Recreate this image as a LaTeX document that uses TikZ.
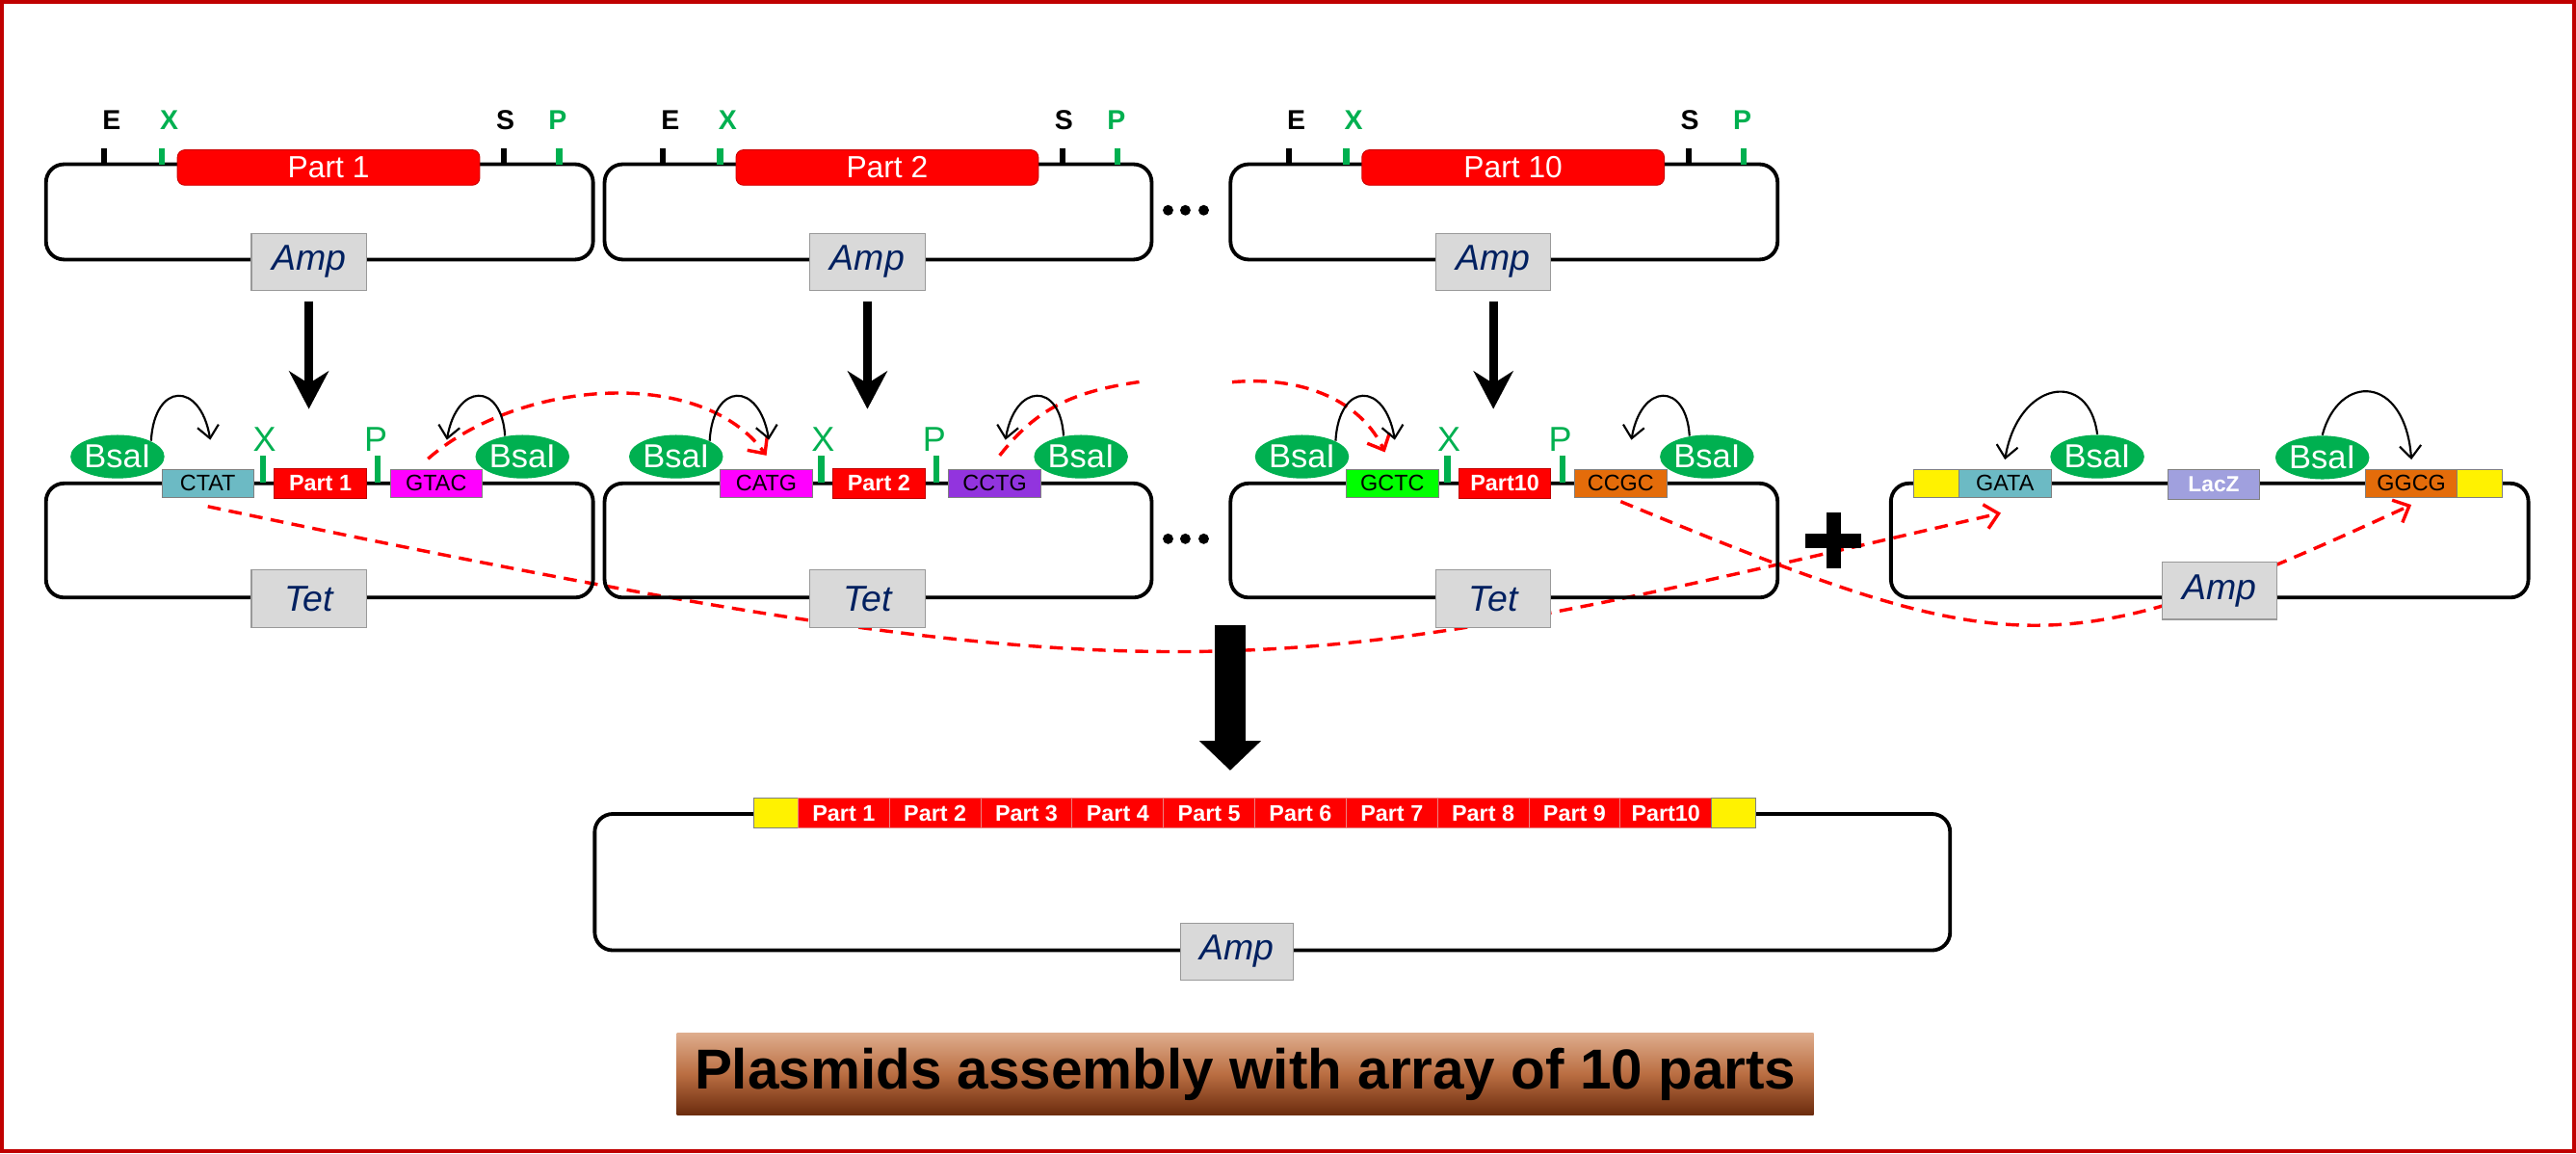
\documentclass[tikz,border=0pt]{standalone}
\usepackage{fontspec}
\setmainfont{Liberation Sans}
\usetikzlibrary{arrows.meta,shapes.geometric,backgrounds}
\definecolor{framered}{RGB}{192,0,0}
\definecolor{partred}{RGB}{255,0,0}
\definecolor{bsagreen}{RGB}{0,176,80}
\definecolor{sitecyan}{RGB}{108,186,196}
\definecolor{sitemagenta}{RGB}{255,0,255}
\definecolor{sitepurple}{RGB}{146,52,222}
\definecolor{sitelime}{RGB}{0,255,0}
\definecolor{siteorange}{RGB}{228,108,10}
\definecolor{laczblue}{RGB}{160,160,222}
\definecolor{markergray}{RGB}{217,217,217}
\definecolor{markernavy}{RGB}{0,32,96}
\definecolor{titletop}{RGB}{222,172,140}
\definecolor{titlemid}{RGB}{186,110,66}
\definecolor{titlebot}{RGB}{108,44,14}
\newcommand{\sizept}[1]{\fontsize{#1pt}{#1pt}\selectfont}

\begin{document}
\begin{tikzpicture}[
		x=0.2mm, y=0.2mm,
		plasmid/.style={
			draw,
			line width=0.45mm,
			rounded corners=2.2mm,
			inner sep=0pt,
			minimum width=66.6mm
		},
		donorpart/.style={
			draw=red!80!black,
			line width=0.3pt,
			rounded corners=0.9mm,
			fill=partred,
			text=white,
			inner sep=0pt,
			minimum width=36.8mm,
			minimum height=4.3mm,
			font=\sizept{10.6}
		},
		partbox/.style={
			draw=red!75!black,
			line width=0.3pt,
			fill=partred,
			text=white,
			inner sep=0pt,
			minimum width=11.2mm,
			minimum height=3.6mm,
			font=\bfseries\sizept{7.8}
		},
		slotbox/.style={
			partbox,
			draw={rgb,255:red,235;green,130;blue,130},
			minimum width=11.12mm
		},
		sitebox/.style={
			draw=gray,
			line width=0.3pt,
			inner sep=0pt,
			minimum width=11.2mm,
			minimum height=3.5mm,
			font=\sizept{7.8}
		},
		padbox/.style={
			sitebox,
			fill=yellow,
			minimum width=5.5mm
		},
		marker/.style={
			draw=gray!80,
			line width=0.4pt,
			fill=markergray,
			text=markernavy,
			inner sep=0pt,
			minimum width=14mm,
			minimum height=7mm,
			font=\itshape\sizept{12.5}
		},
		enzyme/.style={
			ellipse,
			fill=bsagreen,
			text=white,
			inner sep=0pt,
			minimum width=11mm,
			minimum height=5.3mm,
			font=\sizept{11.5}
		},
		blacktick/.style={line width=0.7mm},
		greentick/.style={line width=0.75mm, draw=bsagreen},
		sitelabel/.style={anchor=base, font=\bfseries\sizept{9.5}},
		cutlabel/.style={anchor=base, text=bsagreen, font=\sizept{12}},
		cutarrow/.style={
			-{Straight Barb[length=1.5mm,width=2.6mm]},
			line width=0.25mm
		},
		linkdash/.style={
			draw=partred,
			line width=0.4mm,
			dash pattern=on 1.6mm off 1mm
		},
		linkarrow/.style={
			linkdash,
			-{Straight Barb[length=1.6mm,width=3mm]}
		},
		downarrow/.style={
			-{Stealth[length=4.6mm,width=4.8mm,inset=1.5mm]},
			line width=1.1mm,
			shorten <=1.2mm
		},
		bigarrow/.style={
			-{Triangle[length=3.6mm,width=7.3mm]},
			line width=3.7mm
		},
		titlebar/.style={
			top color=titletop,
			bottom color=titlebot,
			middle color=titlemid,
			inner sep=0pt,
			minimum width=138.4mm,
			minimum height=9.9mm,
			font=\bfseries\sizept{19.5}
		}
	]
	
	\useasboundingbox (0,0) rectangle (1568,702);
	\draw[framered, line width=0.5mm] (1.25,1.25) rectangle (1566.75,700.75);
	
	% donor plasmids
	\node[plasmid, minimum height=11.6mm] (donor1) at (194.5,573) {};
	\draw[blacktick] (63.4,602) -- (63.4,611.5);
	\draw[greentick] (98.4,602) -- (98.4,611.5);
	\draw[blacktick] (306.8,602) -- (306.8,611.5);
	\draw[greentick] (340.3,602) -- (340.3,611.5);
	\node[sitelabel] (e1) at (68,623) {E};
	\node[sitelabel, text=bsagreen] (x1) at (103,623) {X};
	\node[sitelabel] (s1) at (307.6,623) {S};
	\node[sitelabel, text=bsagreen] (p1) at (339.5,623) {P};
	\node[donorpart] (dpart1) at (200,600) {Part 1};
	\node[marker] (amp1) at (188,542.5) {Amp};
	
	\node[plasmid, minimum height=11.6mm] (donor2) at (534.5,573) {};
	\draw[blacktick] (403.4,602) -- (403.4,611.5);
	\draw[greentick] (438.4,602) -- (438.4,611.5);
	\draw[blacktick] (646.8,602) -- (646.8,611.5);
	\draw[greentick] (680.3,602) -- (680.3,611.5);
	\node[sitelabel] (e2) at (408,623) {E};
	\node[sitelabel, text=bsagreen] (x2) at (443,623) {X};
	\node[sitelabel] (s2) at (647.6,623) {S};
	\node[sitelabel, text=bsagreen] (p2) at (679.5,623) {P};
	\node[donorpart] (dpart2) at (540,600) {Part 2};
	\node[marker] (amp2) at (528,542.5) {Amp};
	
	\node[plasmid, minimum height=11.6mm] (donor3) at (915.5,573) {};
	\draw[blacktick] (784.4,602) -- (784.4,611.5);
	\draw[greentick] (819.4,602) -- (819.4,611.5);
	\draw[blacktick] (1027.8,602) -- (1027.8,611.5);
	\draw[greentick] (1061.3,602) -- (1061.3,611.5);
	\node[sitelabel] (e3) at (789,623) {E};
	\node[sitelabel, text=bsagreen] (x3) at (824,623) {X};
	\node[sitelabel] (s3) at (1028.6,623) {S};
	\node[sitelabel, text=bsagreen] (p3) at (1060.5,623) {P};
	\node[donorpart] (dpart3) at (921,600) {Part 10};
	\node[marker] (amp3) at (909,542.5) {Amp};
	
	\fill (711,574) circle (3.2) (721.5,574) circle (3.2) (732.7,574) circle (3.2);
	
	\coordinate (drop1) at (188,453);
	\coordinate (drop2) at (528,453);
	\coordinate (drop3) at (909,453);
	\draw[downarrow] (amp1.south) -- (drop1);
	\draw[downarrow] (amp2.south) -- (drop2);
	\draw[downarrow] (amp3.south) -- (drop3);
	
	% entry vectors
	\node[plasmid, minimum height=13.9mm] (entry1) at (194.5,373) {};
	\node[enzyme] (bsaL1) at (71.5,424) {BsaI};
	\node[sitebox, fill=sitecyan] (ohL1) at (126.5,407.7) {CTAT};
	\draw[greentick] (160,408) -- (160,424.5);
	\node[cutlabel] (xm1) at (161,427.5) {X};
	\node[partbox] (part1) at (195,407.7) {Part 1};
	\draw[greentick] (230,408) -- (230,424.5);
	\node[cutlabel] (pm1) at (228.7,427.5) {P};
	\node[sitebox, fill=sitemagenta] (ohR1) at (265.5,407.7) {GTAC};
	\node[enzyme] (bsaR1) at (318,424) {BsaI};
	\node[marker] (tet1) at (188,337.5) {Tet};
	\draw[cutarrow] (bsaL1.north east) .. controls +(2,36) and +(-6,36) .. ([xshift=0.3mm,yshift=3.5mm]ohL1.north);
	\draw[cutarrow] (bsaR1.130) .. controls +(-2,33) and +(6,35) .. ([xshift=1.3mm,yshift=3.5mm]ohR1.north);
	
	\node[plasmid, minimum height=13.9mm] (entry2) at (534.5,373) {};
	\node[enzyme] (bsaL2) at (411.5,424) {BsaI};
	\node[sitebox, fill=sitemagenta] (ohL2) at (466.5,407.7) {CATG};
	\draw[greentick] (500,408) -- (500,424.5);
	\node[cutlabel] (xm2) at (501,427.5) {X};
	\node[partbox] (part2) at (535,407.7) {Part 2};
	\draw[greentick] (570,408) -- (570,424.5);
	\node[cutlabel] (pm2) at (568.7,427.5) {P};
	\node[sitebox, fill=sitepurple] (ohR2) at (605.5,407.7) {CCTG};
	\node[enzyme] (bsaR2) at (658,424) {BsaI};
	\node[marker] (tet2) at (528,337.5) {Tet};
	\draw[cutarrow] (bsaL2.north east) .. controls +(2,36) and +(-6,36) .. ([xshift=0.3mm,yshift=3.5mm]ohL2.north);
	\draw[cutarrow] (bsaR2.130) .. controls +(-2,33) and +(6,35) .. ([xshift=1.3mm,yshift=3.5mm]ohR2.north);
	
	\node[plasmid, minimum height=13.9mm] (entry3) at (915.5,373) {};
	\node[enzyme] (bsaL3) at (792.5,424) {BsaI};
	\node[sitebox, fill=sitelime] (ohL3) at (847.5,407.7) {GCTC};
	\draw[greentick] (881,408) -- (881,424.5);
	\node[cutlabel] (xm3) at (882,427.5) {X};
	\node[partbox] (part3) at (916,407.7) {Part10};
	\draw[greentick] (951,408) -- (951,424.5);
	\node[cutlabel] (pm3) at (949.7,427.5) {P};
	\node[sitebox, fill=siteorange] (ohR3) at (986.5,407.7) {CCGC};
	\node[enzyme] (bsaR3) at (1039,424) {BsaI};
	\node[marker] (tet3) at (909,337.5) {Tet};
	\draw[cutarrow] (bsaL3.north east) .. controls +(2,36) and +(-6,36) .. ([xshift=0.3mm,yshift=3.5mm]ohL3.north);
	\draw[cutarrow] (bsaR3.130) .. controls +(-2,33) and +(6,35) .. ([xshift=1.3mm,yshift=3.5mm]ohR3.north);
	
	\fill (711,374) circle (3.2) (721.5,374) circle (3.2) (732.7,374) circle (3.2);
	\draw[line width=1.75mm] (1099,373) -- (1133,373) (1116,356) -- (1116,390);
	
	% destination vector
	\node[plasmid, minimum width=77.6mm, minimum height=13.9mm] (dest) at (1345,373) {};
	\node[padbox] (padL) at (1178.7,407.7) {};
	\node[sitebox, fill=sitecyan] (ohL4) at (1220.4,407.7) {GATA};
	\node[enzyme] (bsaL4) at (1276.6,424) {BsaI};
	\node[sitebox, fill=laczblue, text=white, minimum height=3.7mm, font=\bfseries\sizept{7.6}] (lacz) at (1347.5,407) {LacZ};
	\node[enzyme] (bsaR4) at (1413.6,423.5) {BsaI};
	\node[sitebox, fill=siteorange] (ohR4) at (1467.8,407.7) {GGCG};
	\node[padbox] (padR) at (1509.5,407.7) {};
	\node[marker] (amp4) at (1351,342.5) {Amp};
	\draw[cutarrow] (bsaL4.north) .. controls +(-5,40) and +(8,48) .. ([yshift=1.1mm]ohL4.north);
	\draw[cutarrow] (bsaR4.north) .. controls +(10,38) and +(-4,52) .. ([yshift=1.1mm]ohR4.north);
	
	\coordinate (bigtop) at (748.8,321.4);
	\coordinate (bigtip) at (748.8,233);
	\draw[bigarrow] (bigtop) -- (bigtip);
	
	% assembled plasmid
	\node[plasmid, minimum width=165mm, minimum height=16.6mm] (asm) at (774.5,165) {};
	\node[padbox, minimum width=5.4mm, minimum height=3.6mm] (asmpadL) at (472.2,207) {};
	\foreach \lab [count=\i] in {Part 1,Part 2,Part 3,Part 4,Part 5,Part 6,Part 7,Part 8,Part 9,Part10}
		\node[slotbox] (slot\i) at ({485.8+55.6*(\i-0.5)},207) {\lab};
	\node[padbox, minimum width=5.4mm, minimum height=3.6mm] (asmpadR) at (1055.4,207) {};
	\node[marker, minimum width=13.7mm, minimum height=6.9mm] (amp5) at (753,122.7) {Amp};
	
	\node[titlebar] (title) at (758,48.2) {Plasmids assembly with array of 10 parts};
	
	\coordinate (fadeA) at (697,470);
	\coordinate (fadeB) at (750,469.4);
	\begin{pgfonlayer}{background}
		\fill[white] (0,0) rectangle (1568,702);
		\draw[linkarrow] ([xshift=-1mm,yshift=1.2mm]ohR1.north) .. controls +(55,48) and +(-40,55) .. ([yshift=1.6mm]ohL2.north);
		\draw[linkdash] ([xshift=0.6mm,yshift=1.6mm]ohR2.north) .. controls +(22,28) and +(-45,-6) .. (fadeA);
		\draw[linkarrow] (fadeB) .. controls +(45,4) and +(-14,30) .. ([xshift=-0.9mm,yshift=2mm]ohL3.north);
		\draw[linkarrow] ([yshift=-1mm]ohL1.south) .. controls +(600,-126) and +(-450,-104) .. ([xshift=-0.5mm,yshift=-1.8mm]ohL4.south);
		\draw[linkarrow] ([yshift=-0.4mm]ohR3.south) .. controls +(240,-99) and +(-215,-99) .. ([yshift=-0.8mm]ohR4.south);
	\end{pgfonlayer}
	
\end{tikzpicture}
\end{document}
